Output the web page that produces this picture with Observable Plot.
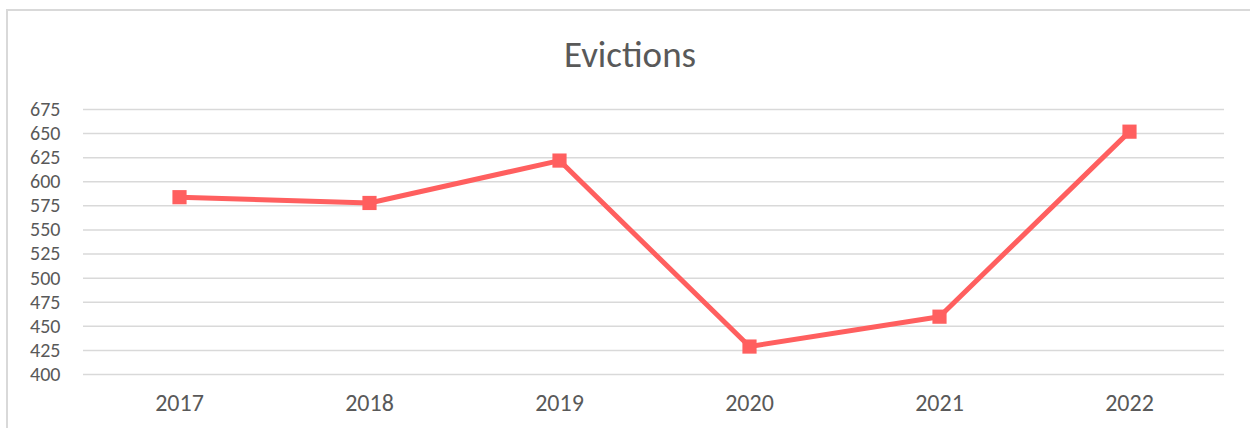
<!DOCTYPE html>
<html>
<head>
<meta charset="utf-8">
<script src="https://cdn.jsdelivr.net/npm/d3@7"></script>
<script src="https://cdn.jsdelivr.net/npm/@observablehq/plot@0.6"></script>
<style>
  html, body { margin: 0; padding: 0; background: #fff; overflow: hidden; }
  #wrap { position: relative; width: 1250px; height: 428px; overflow: hidden; }
  #border { position: absolute; left: 6px; top: 9px; width: 1260px; height: 440px;
            border-left: 2px solid #d9d9d9; border-top: 2px solid #d9d9d9; box-sizing: border-box; pointer-events: none; }
  #chart { position: absolute; left: 0; top: 0; }
</style>
</head>
<body>
<div id="wrap"><div id="border"></div><div id="chart"></div></div>
<script>
const title = "Evictions";
const years = ["2017", "2018", "2019", "2020", "2021", "2022"];
const evictions = [584, 578, 622, 429, 460, 652];
const yTicks = [400, 425, 450, 475, 500, 525, 550, 575, 600, 625, 650, 675];

const data = years.map((year, i) => ({year, value: evictions[i]}));
const color = "#ff5f5f";
const font = "Calibri, Carlito, 'Open Sans', 'Noto Sans', sans-serif";

const chart = Plot.plot({
  width: 1250,
  height: 428,
  marginTop: 109,
  marginBottom: 54,
  marginLeft: 83,
  marginRight: 26,
  style: {fontFamily: font, fontSize: "24px", color: "#595959", background: "transparent"},
  x: {type: "point", domain: years, padding: 0.5, label: null},
  y: {domain: [400, 675], label: null},
  marks: [
    Plot.gridY(yTicks, {stroke: "#d9d9d9", strokeOpacity: 1, strokeWidth: 1.5}),
    Plot.axisY(yTicks, {tickSize: 0, tickPadding: 23, fill: "#595959", fontSize: 20, label: null}),
    Plot.axisX(years, {tickSize: 0, tickPadding: 19, fill: "#595959", fontSize: 24, label: null}),
    Plot.line(data, {x: "year", y: "value", stroke: color, strokeWidth: 5, strokeLinejoin: "round"}),
    Plot.dot(data, {x: "year", y: "value", symbol: "square", r: 8, fill: color, stroke: "none"}),
    Plot.text([title], {frameAnchor: "top", lineAnchor: "middle", dx: -24, dy: -54, fontSize: 37, fill: "#595959", fontFamily: font})
  ]
});
document.getElementById("chart").appendChild(chart);
</script>
</body>
</html>
